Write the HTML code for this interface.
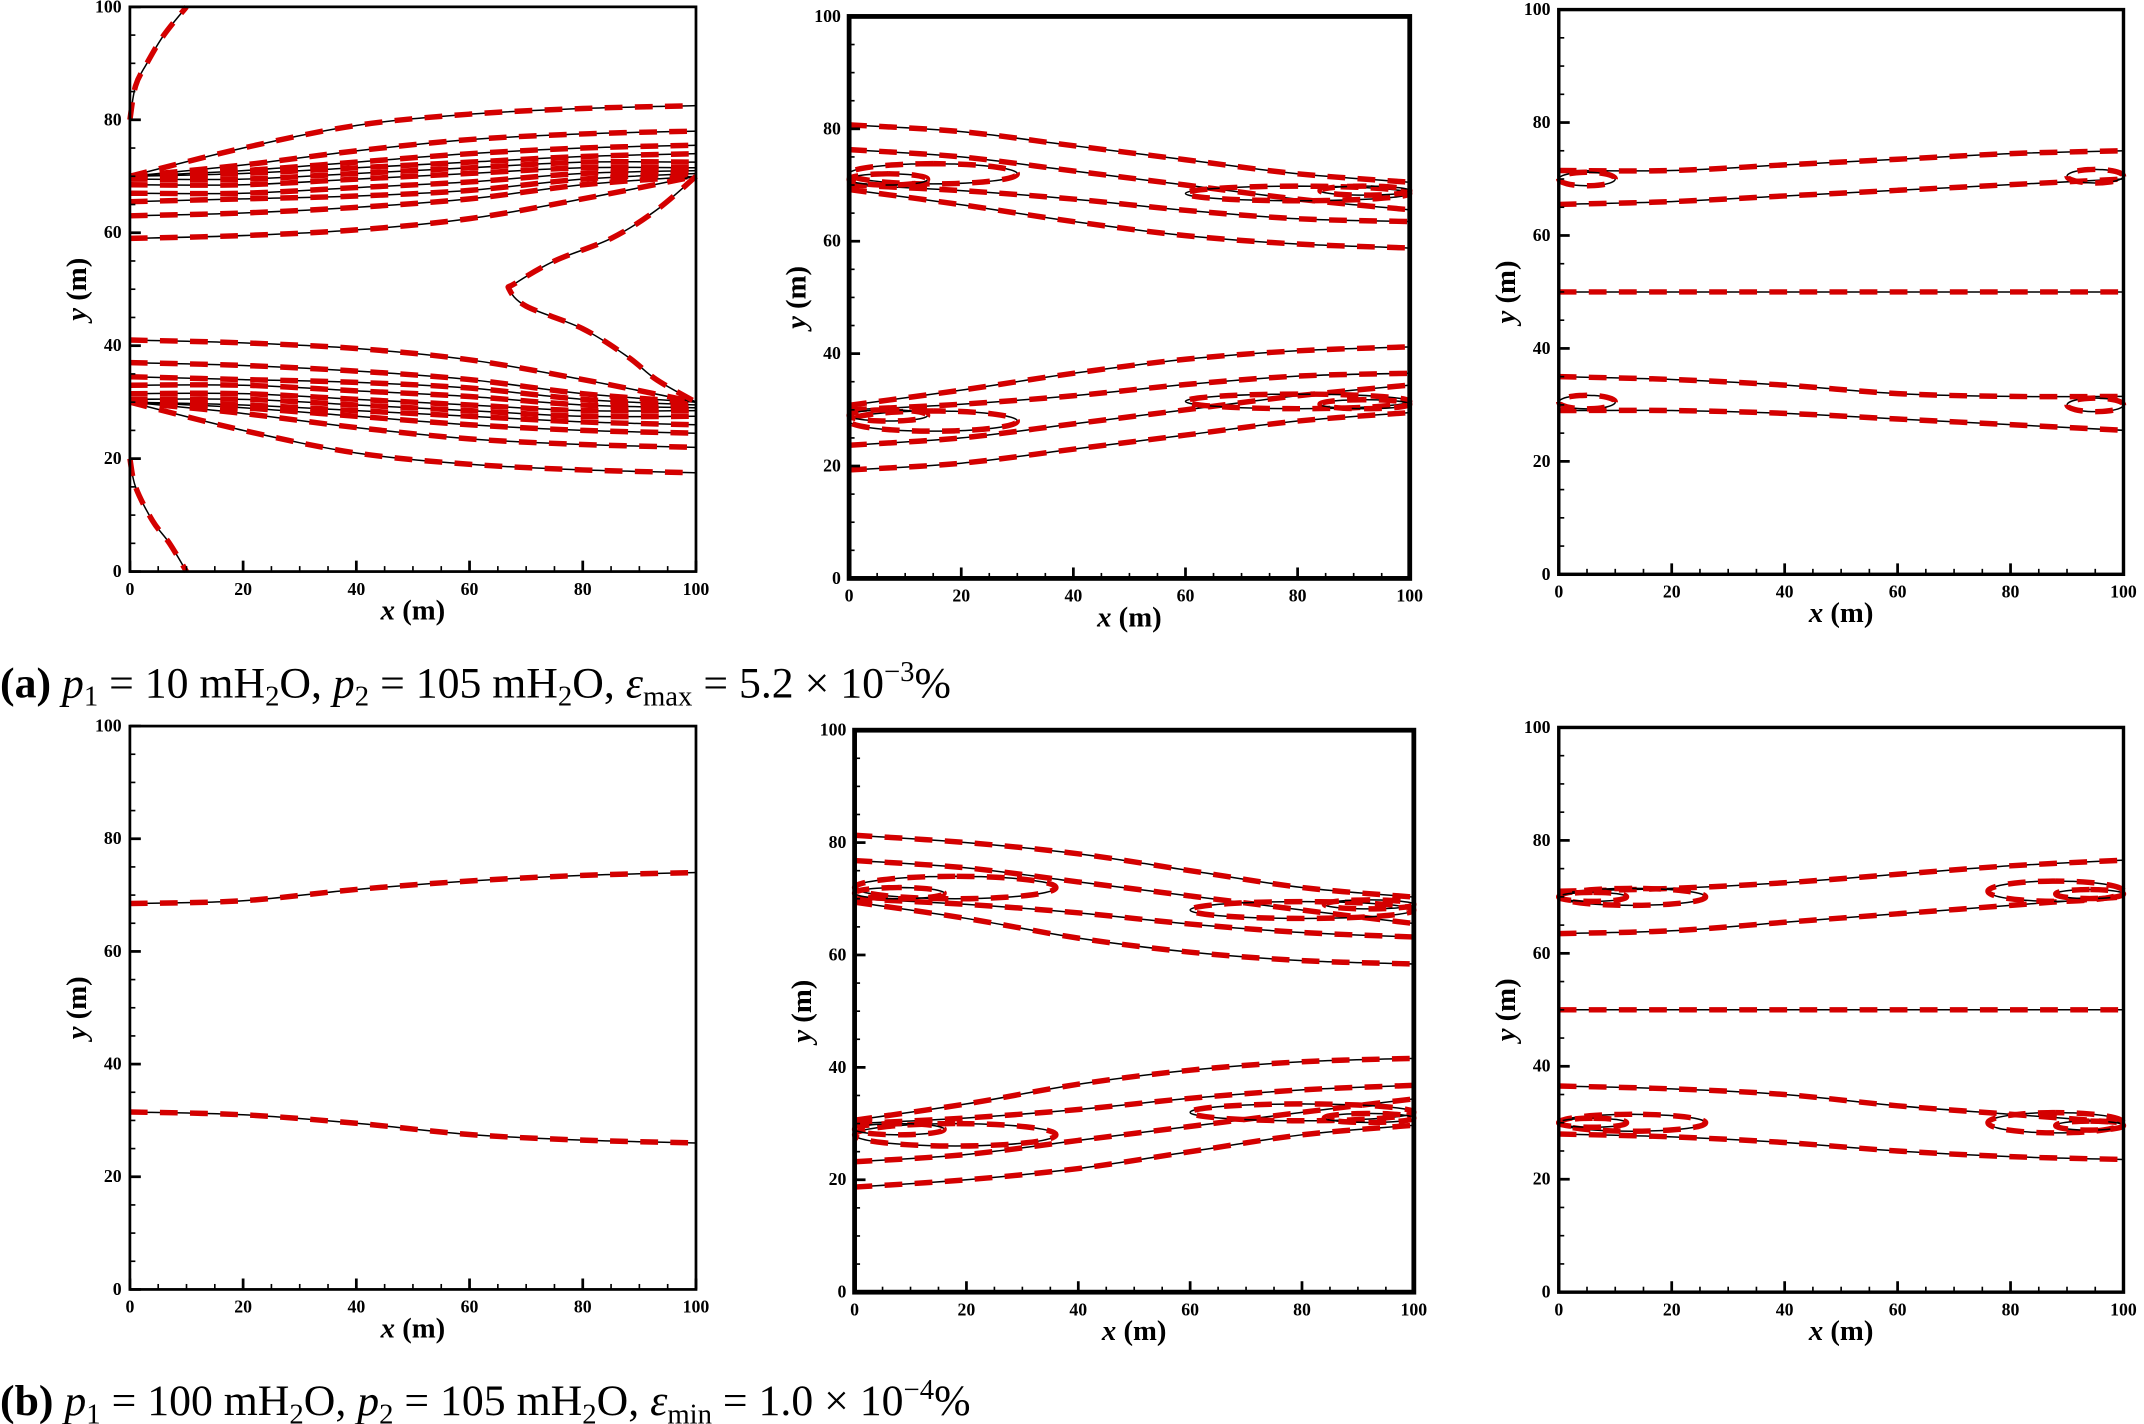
<!DOCTYPE html>
<html><head><meta charset="utf-8">
<style>
html,body{margin:0;padding:0;background:#fff;}
svg{display:block;}
.tk{font-family:"Liberation Serif",serif;font-weight:bold;font-size:13px;fill:#000;}
.ttl{font-family:"Liberation Serif",serif;font-weight:bold;font-size:21px;fill:#000;}
.cap{font-family:"Liberation Serif",serif;font-size:32px;fill:#000;}
</style></head>
<body>
<svg id="fig" width="2144" height="1424" viewBox="0 0 1568 1041.4" xmlns="http://www.w3.org/2000/svg">
<text class="cap" x="0" y="510"><tspan font-weight="bold">(a)</tspan> <tspan font-style="italic">p</tspan><tspan font-size="21" dy="6">1</tspan><tspan dy="-6"> = 10 mH</tspan><tspan font-size="21" dy="6">2</tspan><tspan dy="-6">O, </tspan><tspan font-style="italic">p</tspan><tspan font-size="21" dy="6">2</tspan><tspan dy="-6"> = 105 mH</tspan><tspan font-size="21" dy="6">2</tspan><tspan dy="-6">O, </tspan><tspan font-style="italic">ε</tspan><tspan font-size="21" dy="6">max</tspan><tspan dy="-6"> = 5.2 × 10</tspan><tspan font-size="21" dy="-12">−3</tspan><tspan dy="12">%</tspan></text>
<text class="cap" x="0" y="1035"><tspan font-weight="bold">(b)</tspan> <tspan font-style="italic">p</tspan><tspan font-size="21" dy="6">1</tspan><tspan dy="-6"> = 100 mH</tspan><tspan font-size="21" dy="6">2</tspan><tspan dy="-6">O, </tspan><tspan font-style="italic">p</tspan><tspan font-size="21" dy="6">2</tspan><tspan dy="-6"> = 105 mH</tspan><tspan font-size="21" dy="6">2</tspan><tspan dy="-6">O, </tspan><tspan font-style="italic">ε</tspan><tspan font-size="21" dy="6">min</tspan><tspan dy="-6"> = 1.0 × 10</tspan><tspan font-size="21" dy="-12">−4</tspan><tspan dy="12">%</tspan></text>
</svg>
<script>
// ---- data ----
const xs = [0, 20, 40, 60, 80, 100];
const tickValues = [0, 20, 40, 60, 80, 100];
const tickLabels = ["0", "20", "40", "60", "80", "100"];

const p1Lines = [
  [70,75,79,81,82,82.5],[70,72,74.5,76.5,77.5,78],[70,71,72.5,74,75,75.5],[70,70.5,71.5,72.5,73.5,74],
  [69.5,69.5,70.5,71.5,72.5,72.5],[68.5,68.5,69.5,70.5,71.5,71.5],[67,67,68,69,70.5,71],
  [65.5,66,66.5,67.5,69.5,70.5],[63,63.5,64.5,66,68.5,70],[59,59.5,60.5,62.5,66,70],
  [30,25,21,19,18,17.5],[30,28,25.5,23.5,22.5,22],[30,29,27.5,26,25,24.5],[30,29.5,28.5,27.5,26.5,26],
  [30.5,30.5,29.5,28.5,27.5,27.5],[31.5,31.5,30.5,29.5,28.5,28.5],[33,33,32,31,29.5,29],
  [34.5,34,33.5,32.5,30.5,29.5],[37,36.5,35.5,34,31.5,30],[41,40.5,39.5,37.5,34,30]
];
const p1FreeX = [[0,1,3,6,10],[0,1,4,7,10],[100,93,85,75,68,67,70,80,88,93,100]];
const p1FreeY = [[80,86,90,95,100],[20,15,9,5,0],[70,64,59,55,51,50,47,43,38,34,30]];
const p1Loops = [];

const p2Lines = [
  [69.2,66.5,63.5,61,59.5,58.8],[70,69,67.5,65.5,64,63.5],[76.3,75,72.5,70,67.5,65.6],[80.7,79.5,77,74.5,72,70.5],
  [30.8,33.5,36.5,39,40.5,41.2],[30,31,32.5,34.5,36,36.5],[23.7,25,27.5,30,32.5,34.4],[19.3,20.5,23,25.5,28,29.5]
];
const p2Loops = [[15,72,15,1.8],[7,71,7,1],[80,68.5,20,1.3],[92,69,8,0.8],[15,28,15,1.8],[7,29,7,1],[80,31.5,20,1.3],[92,31,8,0.8]];

const p3Lines = [
  [71.5,71.5,72.5,73.5,74.5,75],[65.5,66,67,68,69,70],[50,50,50,50,50,50],
  [35,34.5,33.5,32,31.5,31.5],[29,29,28.5,27.5,26.5,25.5]
];
const p3Loops = [[5,70,5,1.2],[95,70.5,5,1.2],[5,30.5,5,1.2],[95,30,5,1.2]];

const p4Lines = [[68.5,69,71,72.5,73.5,74],[31.5,31,29.5,27.5,26.5,26]];
const p4Loops = [];

const p5Lines = [
  [69.4,66.5,63,60.5,59,58.4],[70,69,67.5,65.5,64,63.2],[76.8,75.5,73,70.5,68,65.6],[81.3,80,78,75,72,70.3],
  [30.6,33.5,37,39.5,41,41.6],[30,31,32.5,34.5,36,36.8],[23.2,24.5,27,29.5,32,34.4],[18.7,20,22,25,28,29.7]
];
const p5Loops = [[18,72,18,2],[8,71,8,1],[80,68,20,1.5],[92,69,8,0.8],[18,28,18,2],[8,29,8,1],[80,32,20,1.5],[92,31,8,0.8]];

const p6Lines = [
  [71,71.5,72.5,74,75.5,76.5],[63.5,64,65.5,67,68.5,70],[50,50,50,50,50,50],
  [36.5,36,35,33,31.5,30],[28,27.5,26.5,25,24,23.5]
];
const p6Loops = [[13,70,13,1.5],[6,70,6,0.8],[88,71,12,1.8],[94,70.5,6,0.8],[13,30,13,1.5],[6,30,6,0.8],[88,30,12,1.8],[94,29.5,6,0.8]];

// ---- drawing ----
const NS = "http://www.w3.org/2000/svg";
const svg = document.getElementById("fig");
function mk(tag, attrs, parent){ const e=document.createElementNS(NS,tag); for(const k in attrs) e.setAttribute(k,attrs[k]); (parent||svg).appendChild(e); return e; }

function smoothPath(pts){
  let d = "M"+pts[0][0].toFixed(2)+","+pts[0][1].toFixed(2);
  for(let i=0;i<pts.length-1;i++){
    const p0=pts[Math.max(0,i-1)], p1=pts[i], p2=pts[i+1], p3=pts[Math.min(pts.length-1,i+2)];
    const c1=[p1[0]+(p2[0]-p0[0])/6, p1[1]+(p2[1]-p0[1])/6];
    const c2=[p2[0]-(p3[0]-p1[0])/6, p2[1]-(p3[1]-p1[1])/6];
    d += " C"+c1[0].toFixed(2)+","+c1[1].toFixed(2)+" "+c2[0].toFixed(2)+","+c2[1].toFixed(2)+" "+p2[0].toFixed(2)+","+p2[1].toFixed(2);
  }
  return d;
}

function drawCurve(g, d, name){
  const b = mk("path",{d:d,fill:"none",stroke:"#000","stroke-width":1.1},g);
  
  
  const r = mk("path",{d:d,fill:"none",stroke:"#d40000","stroke-width":4,"stroke-dasharray":"13 9"},g);
  
  
}

function panel(id, x0, x1, y0, y1, frameW, lines, freeX, freeY, loops){
  const g = mk("g",{});
  
  
  const sx = v => x0 + (x1-x0)*v/100;
  const sy = v => y0 + (y1-y0)*v/100;
  lines.forEach((ys,i)=>{
    drawCurve(g, smoothPath(xs.map((x,j)=>[sx(x), sy(ys[j])])), id+'-contour-'+i);
  });
  (freeX||[]).forEach((fx,i)=>{
    drawCurve(g, smoothPath(fx.map((x,j)=>[sx(x), sy(freeY[i][j])])), id+'-boundary-contour-'+i);
  });
  (loops||[]).forEach((L,i)=>{
    const cx=L[0], cy=L[1], rx=L[2], ry=L[3];
    const pts=[];
    for(let k=0;k<=24;k++){ const a=Math.PI/2 + 2*Math.PI*k/24; pts.push([sx(Math.max(0,Math.min(100,cx+rx*Math.cos(a)))), sy(cy+ry*Math.sin(a))]); }
    drawCurve(g, smoothPath(pts), id+'-loop-'+i);
  });
  const fr = mk("rect",{x:x0,y:y1,width:x1-x0,height:y0-y1,fill:"none",stroke:"#000","stroke-width":frameW},g);
  
  
  for(let v=0; v<=100; v+=5){
    const major = v%20===0, len = major?8:4;
    mk("line",{x1:sx(v),x2:sx(v),y1:y0,y2:y0-len,stroke:"#000","stroke-width":major?2:1.2},g);
    mk("line",{x1:x0,x2:x0+len,y1:sy(v),y2:sy(v),stroke:"#000","stroke-width":major?2:1.2},g);
  }
  tickValues.forEach((v,i)=>{
    const tx = mk("text",{x:sx(v),y:y0+17,"text-anchor":"middle",class:"tk"},g);
    tx.textContent = tickLabels[i];
    
    
    const ty = mk("text",{x:x0-6,y:sy(v)+4,"text-anchor":"end",class:"tk"},g);
    ty.textContent = tickLabels[i];
    
    
  });
  const xt = mk("text",{x:(x0+x1)/2,y:y0+35,"text-anchor":"middle",class:"ttl"},g);
  xt.innerHTML = '<tspan font-style="italic">x</tspan> (m)';
  
  
  const yc = (y0+y1)/2, yx = x0-32;
  const yt = mk("text",{x:yx,y:yc,"text-anchor":"middle",class:"ttl",transform:"rotate(-90 "+yx+" "+yc+")"},g);
  yt.innerHTML = '<tspan font-style="italic">y</tspan> (m)';
  
  
}

panel("panel-a1", 95, 509, 418, 5, 2, p1Lines, p1FreeX, p1FreeY, p1Loops);
panel("panel-a2", 621, 1031, 423, 12, 3.5, p2Lines, null, null, p2Loops);
panel("panel-a3", 1140, 1553, 420, 7, 2.5, p3Lines, null, null, p3Loops);
panel("panel-b1", 95, 509, 943, 531, 2, p4Lines, null, null, p4Loops);
panel("panel-b2", 625, 1034, 945, 534, 3.5, p5Lines, null, null, p5Loops);
panel("panel-b3", 1140, 1553, 945, 532, 2.5, p6Lines, null, null, p6Loops);
</script>
</body></html>
